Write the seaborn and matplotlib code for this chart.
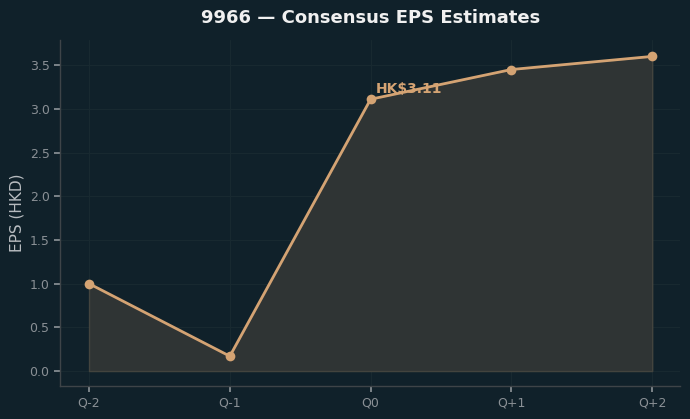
import matplotlib
matplotlib.use("Agg")
import matplotlib.pyplot as plt
import seaborn as sns
import pandas as pd

quarters = ["Q-2", "Q-1", "Q0", "Q+1", "Q+2"]
eps = [1.00, 0.17, 3.11, 3.45, 3.60]
annot_label = "HK$3.11"

bg = "#10212a"
line_c = "#d4a373"

sns.set_theme(style="dark")
plt.rcParams['font.family'] = ['DejaVu Sans']

df = pd.DataFrame({"q": quarters, "eps": eps})
df["x"] = range(len(df))

fig, ax = plt.subplots(figsize=(6.9, 4.19), dpi=100)
fig.patch.set_facecolor(bg)
ax.set_facecolor(bg)

ax.fill_between(df["x"], df["eps"], 0, facecolor="#2f3434", alpha=1.0,
                edgecolor="#43443e", linewidth=1.0, zorder=1)
sns.lineplot(data=df, x="x", y="eps", ax=ax, color=line_c, linewidth=2,
             marker="o", markersize=7, markeredgewidth=0, zorder=3)

ax.annotate(annot_label, xy=(2, eps[2]), xytext=(4, 2), textcoords="offset points",
            color=line_c, fontsize=10, fontweight="bold", va="bottom", ha="left")

ax.set_xticks(df["x"])
ax.set_xticklabels(quarters)
ax.set_xlim(-0.206, 4.2)
ax.set_ylim(-0.17, 3.79)
ax.set_yticks([0, 0.5, 1.0, 1.5, 2.0, 2.5, 3.0, 3.5])
ax.set_xlabel("")
ax.set_ylabel("EPS (HKD)", color="#b8bcc0", fontsize=11)
ax.set_title("9966 — Consensus EPS Estimates", color="#f0f0f0", fontsize=13,
             fontweight="bold", pad=12)

ax.grid(True, color="#182930", linewidth=0.8)
ax.tick_params(colors="#8a9095", labelsize=9, length=4, left=True, bottom=True)
for s in ["top", "right"]:
    ax.spines[s].set_visible(False)
for s in ["left", "bottom"]:
    ax.spines[s].set_color("#3e4448")
    ax.spines[s].set_linewidth(1)

fig.subplots_adjust(left=0.087, right=0.986, top=0.905, bottom=0.079)
fig.savefig("out.png", dpi=100, facecolor=bg)
